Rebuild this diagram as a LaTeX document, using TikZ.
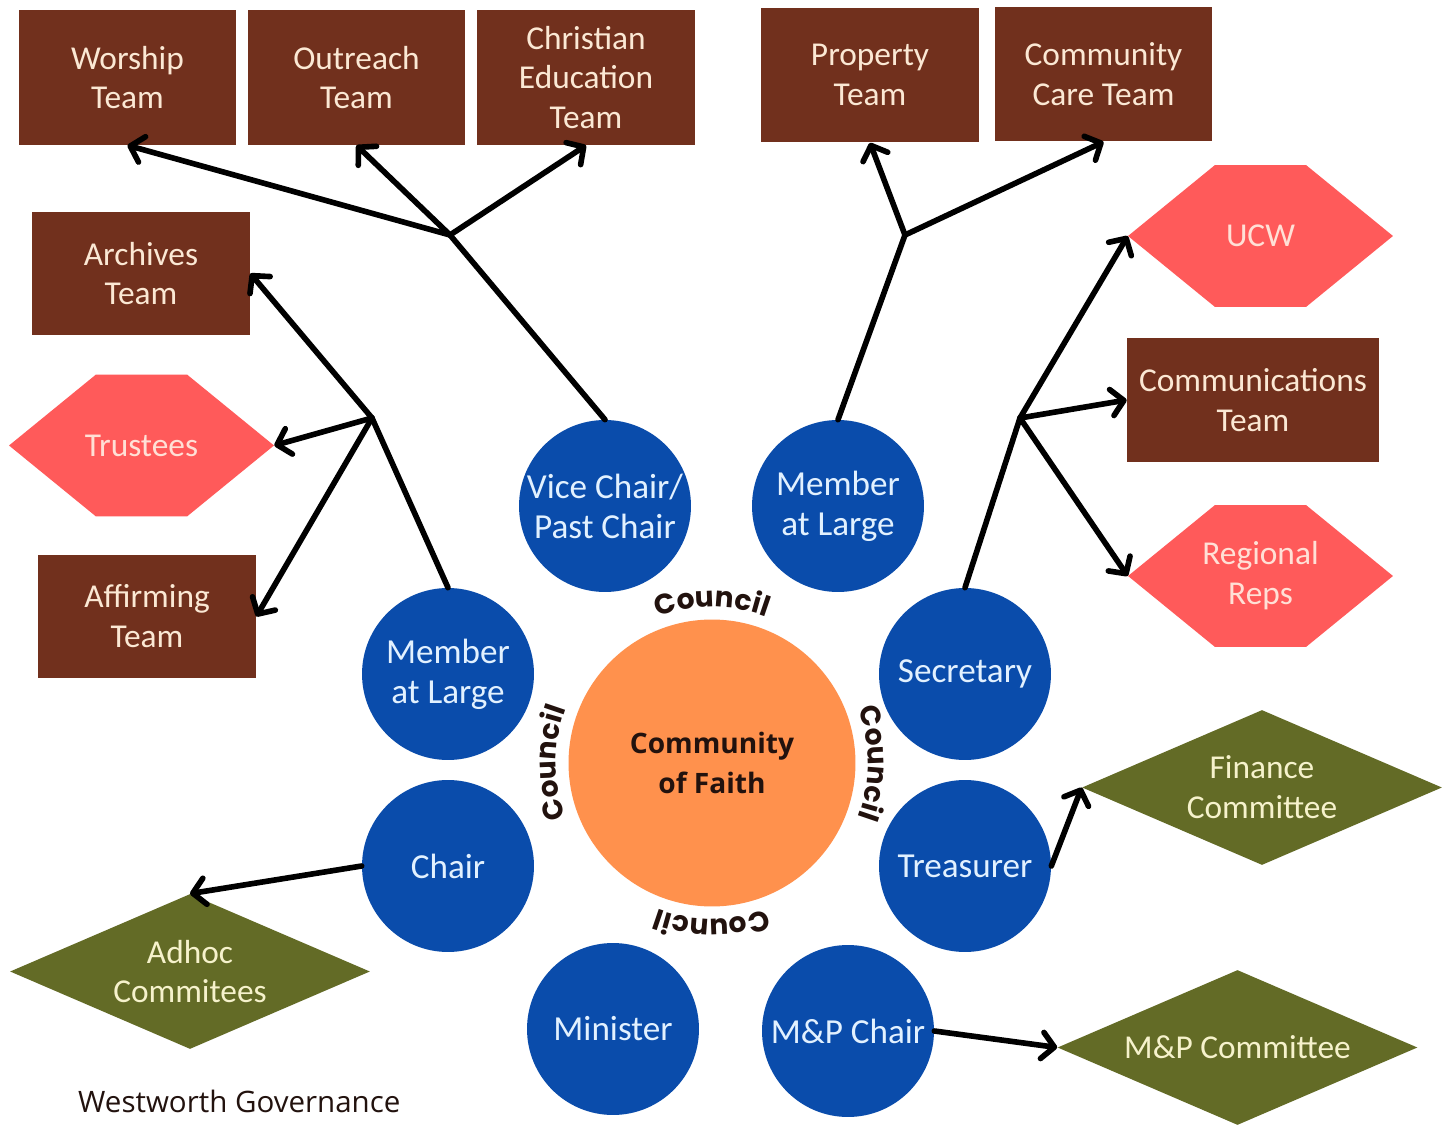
\documentclass[tikz,border=0pt]{standalone}
\usepackage{fontspec}
\setmainfont{Carlito}
\newfontfamily\councilfont{Poppins}
\newfontfamily\faithfont{Open Sans}
\usetikzlibrary{arrows.meta,shapes.geometric,decorations.text}

\definecolor{teambrown}{HTML}{71301D}
\definecolor{teamtext}{HTML}{FBE8D4}
\definecolor{coral}{HTML}{FF5A5A}
\definecolor{coraltext}{HTML}{FFE0D6}
\definecolor{olive}{HTML}{636B26}
\definecolor{olivetext}{HTML}{F6F2CC}
\definecolor{roleblue}{HTML}{0A4CAB}
\definecolor{roletext}{HTML}{E2F1FF}
\definecolor{faithorange}{HTML}{FF914D}
\definecolor{inkdark}{HTML}{22120E}

\begin{document}
\begin{tikzpicture}[x=0.02cm, y=-0.02cm,
    teambox/.style={fill=teambrown, text=teamtext, align=center, inner sep=0pt,
        minimum width=4.36cm, minimum height=2.7cm, font=\fontsize{19}{22.7}\selectfont},
    sidebox/.style={teambox, minimum height=2.46cm},
    hexbox/.style={text=coraltext, align=center, inner sep=0pt,
        minimum width=5.3cm, minimum height=2.84cm, font=\fontsize{19}{22.7}\selectfont,
        path picture={\fill[coral] (path picture bounding box.west)
            -- ([xshift=1.74cm]path picture bounding box.north west)
            -- ([xshift=-1.74cm]path picture bounding box.north east)
            -- (path picture bounding box.east)
            -- ([xshift=-1.74cm]path picture bounding box.south east)
            -- ([xshift=1.74cm]path picture bounding box.south west) -- cycle;}},
    committee/.style={diamond, aspect=2.3, fill=olive, text=olivetext, align=center, inner sep=0pt,
        minimum width=7.2cm, minimum height=3.1cm, font=\fontsize{19}{22.7}\selectfont},
    role/.style={circle, fill=roleblue, text=roletext, align=center, inner sep=0pt,
        minimum size=3.44cm, font=\fontsize{20}{22.7}\selectfont},
    line/.style={line width=3.2pt, line cap=round},
    arr/.style={line, -{Straight Barb[length=7pt,width=15pt,round]}}
]

    \fill[white] (0,0) rectangle (1455,1128);
    \useasboundingbox (0,0) rectangle (1455,1128);

    % Teams along the top
    \node[teambox] (worship) at (127.5,77.5) {Worship\\Team};
    \node[teambox] (outreach) at (356.5,77.5) {Outreach\\Team};
    \node[teambox] (christed) at (586,77.5) {Christian\\Education\\Team};
    \node[teambox] (property) at (870,75) {Property\\Team};
    \node[teambox] (ccare) at (1103.5,74) {Community\\Care Team};

    % Left side groups
    \node[sidebox] (archives) at (141,273.5) {Archives\\Team};
    \node[hexbox] (trustees) at (141.5,445.5) {Trustees};
    \node[sidebox] (affirming) at (147,616.5) {Affirming\\Team};

    % Right side groups
    \node[hexbox] (ucw) at (1260.5,236) {UCW};
    \node[sidebox, minimum width=5.04cm, minimum height=2.48cm] (comms) at (1253,400) {Communications\\Team};
    \node[hexbox] (reps) at (1260.5,576) {Regional\\Reps};

    % Committees
    \node[committee] (finance) at (1262,787.5) {Finance\\Committee};
    \node[committee] (adhoc) at (190,971.5) {Adhoc\\Commitees};
    \node[committee] (mpcomm) at (1237.5,1047.5) {M\&P Committee};

    % Council ring
    \node[circle, fill=faithorange, text=inkdark, align=center, minimum size=5.74cm,
        font=\faithfont\bfseries\fontsize{16}{22.7}\selectfont] (faith) at (712,763) {Community\\of Faith};
    \node[role] (vice) at (605,506) {Vice Chair/\\Past Chair};
    \node[role] (mright) at (838,506) {Member\\at Large};
    \node[role] (mleft) at (448,674) {Member\\at Large};
    \node[role] (sec) at (965,674) {Secretary};
    \node[role] (chair) at (448,866) {Chair};
    \node[role] (treas) at (965,866) {Treasurer};
    \node[role] (minister) at (613,1029) {Minister};
    \node[role] (mpchair) at (848,1031) {M\&P Chair};

    % Council labels round the centre
    \begin{scope}[x=1cm, y=1cm]
        \foreach \a in {90,180,0,270} {
            \path[decorate, decoration={text along path, text align=center, text color=inkdark,
                text={|\councilfont\bfseries\fontsize{16}{16}\selectfont|Council}}]
                ([shift={(\a+35:3.12)}]faith.center) arc[start angle=\a+35, end angle=\a-35, radius=3.12];
        }
    \end{scope}

    % Branch points
    \coordinate (jvice) at (450,235);
    \coordinate (jleft) at (372,418);
    \coordinate (jright) at (905,235);
    \coordinate (jsec) at (1020,418);

    % Connectors
    \draw[line] (vice.north) -- (jvice);
    \foreach \t in {worship,outreach,christed} {
        \draw[arr] (jvice) -- (\t.south);
    }
    \draw[line] (mleft.north) -- (jleft);
    \foreach \t in {archives,trustees,affirming} {
        \draw[arr] (jleft) -- (\t.east);
    }
    \draw[line] (mright.north) -- (jright);
    \foreach \t in {property,ccare} {
        \draw[arr] (jright) -- (\t.south);
    }
    \draw[line] (sec.north) -- (jsec);
    \foreach \t in {ucw,comms,reps} {
        \draw[arr] (jsec) -- (\t.west);
    }
    \draw[arr] (treas.east) -- (finance.west);
    \draw[arr] (chair.west) -- (adhoc.north);
    \draw[arr] (mpchair.east) -- (mpcomm.west);

    % Title
    \node[anchor=west, text=inkdark, font=\faithfont\fontsize{16.8}{20}\selectfont] (title) at (72,1101) {Westworth Governance};

\end{tikzpicture}
\end{document}
